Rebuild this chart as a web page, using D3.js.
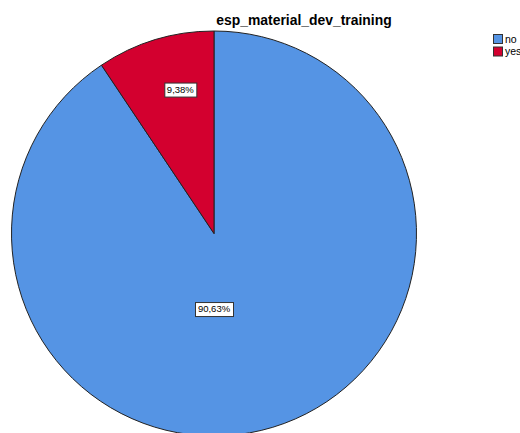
<!DOCTYPE html>
<html>
<head>
<meta charset="utf-8">
<script src="https://cdn.jsdelivr.net/npm/d3@7"></script>
<style>
  html, body { margin: 0; padding: 0; background: #fff; }
  svg { display: block; }
  text { font-family: "Liberation Sans", Arial, sans-serif; }
</style>
</head>
<body>
<svg id="chart" width="520" height="433"></svg>
<script>
const title = "esp_material_dev_training";
const categories = ["no", "yes"];
const values = [90.63, 9.38];
const labels = ["90,63%", "9,38%"];
const colors = ["#5594e4", "#d3002f"];

const svg = d3.select("#chart");
const W = 520, H = 433;
const cx = 214, cy = 233.5, r = 202.5;

svg.append("rect").attr("width", W).attr("height", H).attr("fill", "#fff");

svg.append("text")
  .attr("x", 304).attr("y", 25)
  .attr("text-anchor", "middle")
  .attr("font-size", 13.9).attr("font-weight", "bold")
  .attr("fill", "#000")
  .text(title);

// pie: "no" clockwise from 12 o'clock, "yes" fills the remainder back to top
const pie = d3.pie().sort(null).value(d => d.v)
  .startAngle(0).endAngle(2 * Math.PI);
const data = categories.map((c, i) => ({ c, v: values[i], label: labels[i], color: colors[i] }));
const arcs = pie(data);

const arc = d3.arc().innerRadius(0).outerRadius(r);
const g = svg.append("g").attr("transform", `translate(${cx},${cy})`);

g.selectAll("path").data(arcs).join("path")
  .attr("d", arc)
  .attr("fill", d => d.data.color)
  .attr("stroke", "#222")
  .attr("stroke-width", 1);

// label placement
function labelPos(d) {
  const span = d.endAngle - d.startAngle;
  let a, rr;
  if (span > Math.PI) { a = Math.PI; rr = 0.373 * r; }
  else {
    a = d.startAngle + span * 0.61;
    rr = 0.73 * r;
  }
  return [rr * Math.sin(a), -rr * Math.cos(a)];
}

const lg = g.selectAll("g.lbl").data(arcs).join("g").attr("class", "lbl")
  .attr("transform", d => `translate(${labelPos(d)})`);
lg.each(function(d) {
  const s = d3.select(this);
  const t = s.append("text")
    .attr("text-anchor", "middle")
    .attr("dy", "0.35em")
    .attr("font-size", 9.5)
    .attr("fill", "#000")
    .text(d.data.label);
  const bb = t.node().getBBox();
  s.insert("rect", "text")
    .attr("x", Math.round(bb.x) - 2.5).attr("y", -6.5)
    .attr("width", Math.round(bb.width) + 5).attr("height", 14)
    .attr("fill", "#fff").attr("stroke", "#333").attr("stroke-width", 1);
});

// legend
const leg = svg.append("g").attr("transform", "translate(493,34)");
const li = leg.selectAll("g").data(data).join("g")
  .attr("transform", (d, i) => `translate(0,${i * 12.5})`);
li.append("rect").attr("x", 0.5).attr("y", 0.5).attr("width", 9).attr("height", 9)
  .attr("fill", d => d.color).attr("stroke", "#333").attr("stroke-width", 1);
li.append("text").attr("x", 12).attr("y", 8.5)
  .attr("font-size", 10.5).attr("fill", "#000")
  .text(d => d.c);
</script>
</body>
</html>
